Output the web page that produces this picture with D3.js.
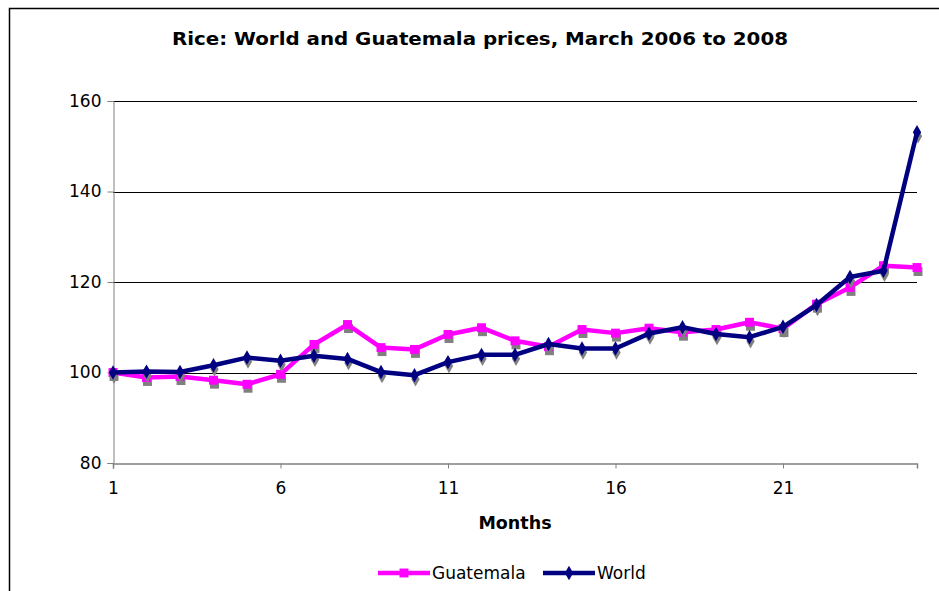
<!DOCTYPE html>
<html><head><meta charset="utf-8">
<script src="https://cdn.jsdelivr.net/npm/d3@7"></script>
<style>
body{margin:0;background:#fff;}
text{font-family:"DejaVu Sans",Verdana,sans-serif;fill:#000;}
</style></head>
<body>
<svg id="c" width="939" height="591"></svg>
<script>
const months = d3.range(1, 26);
const guatemala = [100, 98.9, 99.1, 98.3, 97.4, 99.6, 106.2, 110.6, 105.5, 105.1, 108.4, 109.9, 107, 105.7, 109.5, 108.7, 109.8, 108.9, 109.5, 111.1, 109.7, 115.1, 118.8, 123.6, 123.2];
const world = [100, 100.2, 100.1, 101.6, 103.3, 102.6, 103.7, 103, 100.1, 99.4, 102.3, 103.9, 103.9, 106.3, 105.3, 105.3, 108.6, 110, 108.5, 107.8, 110.1, 114.9, 121.1, 122.5, 153.1];
const xTicks = [1, 6, 11, 16, 21];
const yTicks = [80, 100, 120, 140, 160];
const titleText = "Rice: World and Guatemala prices, March 2006 to 2008";
const xTitle = "Months";
const seriesNames = ["Guatemala", "World"];

const svg = d3.select("#c");
// outer frame
svg.append("path").attr("d","M9.5,600 V8.5 H950").attr("fill","none").attr("stroke","#000").attr("stroke-width",1.5);

const x = d3.scaleLinear().domain([1,25]).range([113,917]);
const y = d3.scaleLinear().domain([80,160]).range([463,101]);

// gridlines
svg.append("g").selectAll("line").data(yTicks.filter(d=>d>80)).join("line")
  .attr("x1",113).attr("x2",917).attr("y1",d=>Math.round(y(d))+0.5).attr("y2",d=>Math.round(y(d))+0.5)
  .attr("stroke","#000").attr("stroke-width",1);

// y axis
const ya = svg.append("g").attr("transform","translate(113.5,0)")
  .call(d3.axisLeft(y).tickValues(yTicks).tickSize(6).tickPadding(6));
ya.select(".domain").attr("stroke","#808080");
ya.selectAll(".tick line").attr("stroke","#808080");
ya.selectAll(".tick text").attr("font-size",17).attr("font-family","DejaVu Sans").attr("fill","#000");

// x axis
const xa = svg.append("g").attr("transform","translate(0,463.5)")
  .call(d3.axisBottom(x).tickValues(xTicks).tickFormat(d3.format("d")).tickSize(5).tickPadding(13));
xa.select(".domain").attr("stroke","#808080").attr("stroke-width",1.5);
xa.selectAll(".tick line").attr("stroke","#808080");
xa.selectAll(".tick text").attr("font-size",17).attr("font-family","DejaVu Sans").attr("fill","#000");

// title
svg.append("text").attr("x",480).attr("y",45).attr("text-anchor","middle")
  .attr("font-weight","bold").attr("font-size",18).attr("textLength",616).attr("lengthAdjust","spacingAndGlyphs").text(titleText);
svg.append("text").attr("x",515).attr("y",529).attr("text-anchor","middle")
  .attr("font-weight","bold").attr("font-size",17.5).text(xTitle);

const line = d3.line().x((d,i)=>x(months[i])).y(d=>y(d));
const sq = d3.symbol().type(d3.symbolSquare).size(80);
const dm = d3.symbol().type(d3.symbolDiamond).size(60);

function drawSeries(vals, color, sym){
  const g = svg.append("g");
  g.selectAll("path.sh").data(vals).join("path").attr("class","sh")
    .attr("d",sym).attr("fill","#808080")
    .attr("transform",(d,i)=>`translate(${x(months[i])+1},${y(d)+4})`);
  g.append("path").datum(vals).attr("d",line).attr("fill","none")
    .attr("stroke",color).attr("stroke-width",4.5).attr("stroke-linejoin","round");
  g.selectAll("path.mk").data(vals).join("path").attr("class","mk")
    .attr("d",sym).attr("fill",color)
    .attr("transform",(d,i)=>`translate(${x(months[i])},${y(d)})`);
}
drawSeries(guatemala,"#ff00ff",sq);
drawSeries(world,"#000080",dm);

// legend
const leg = svg.append("g");
const items = [{name:seriesNames[0],color:"#ff00ff",sym:sq,x0:378},{name:seriesNames[1],color:"#000080",sym:dm,x0:543}];
items.forEach(it=>{
  leg.append("line").attr("x1",it.x0).attr("x2",it.x0+52).attr("y1",573).attr("y2",573)
    .attr("stroke",it.color).attr("stroke-width",4.5);
  leg.append("path").attr("d",it.sym).attr("fill",it.color).attr("transform",`translate(${it.x0+26},573)`);
  leg.append("text").attr("x",it.x0+54).attr("y",579).attr("font-size",17).text(it.name);
});
</script>
</body></html>
